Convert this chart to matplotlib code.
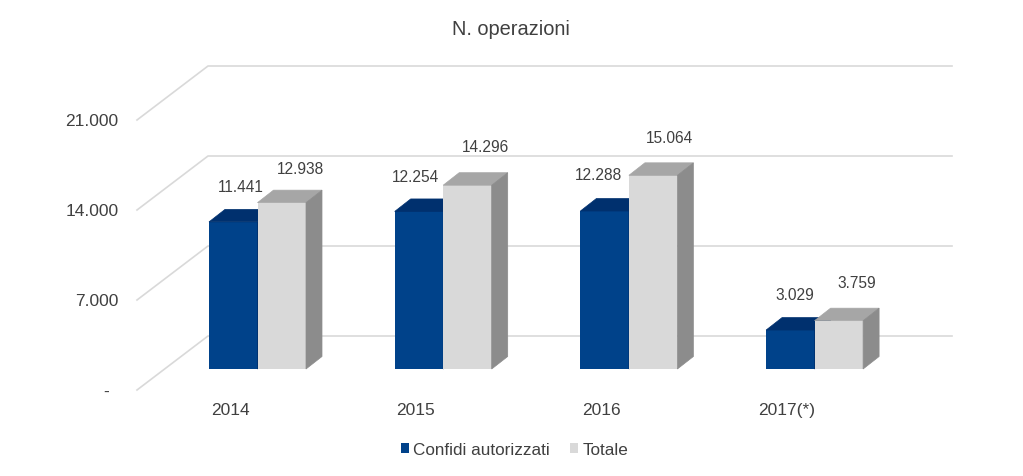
import numpy as np
import matplotlib
matplotlib.use("Agg")
import matplotlib.pyplot as plt

plt.rcParams['font.family'] = ['Liberation Sans', 'DejaVu Sans']

years = ['2014', '2015', '2016', '2017(*)']
confidi = [11441, 12254, 12288, 3029]
totale = [12938, 14296, 15064, 3759]
confidi_labels = ['11.441', '12.254', '12.288', '3.029']
totale_labels = ['12.938', '14.296', '15.064', '3.759']
y_ticks = [0, 7000, 14000, 21000]
y_tick_labels = ['-', '7.000', '14.000', '21.000']

W, H = 1023, 477
BASE_PX = 370
X0_PX = 257.5
CAT_PX = 185.7
UNITS_PER_PX = 7000 / 90

fig = plt.figure(figsize=(W / 100, H / 100), dpi=100)
ax = fig.add_axes([0, 0, 1, 1])
ax.set_xlim(-X0_PX / CAT_PX, (W - X0_PX) / CAT_PX)
ax.set_ylim(-(H - BASE_PX) * UNITS_PER_PX, BASE_PX * UNITS_PER_PX)
ax.axis('off')


def dx(px):
    return px / CAT_PX


def dy(px):
    return px * UNITS_PER_PX


def px_x(px):
    return (px - X0_PX) / CAT_PX


def px_y(px):
    return (BASE_PX - px) * UNITS_PER_PX


# walls of the 3d frame
grid_col = '#D9D9D9'
for v in y_ticks:
    ax.plot([px_x(137), px_x(208), px_x(952)],
            [v - dy(21), v + dy(33), v + dy(33)],
            color=grid_col, lw=1.2, zorder=1)

x = np.arange(len(years))
bw = 48.5 / CAT_PX
depth_x, depth_y = dx(16), dy(12.5)


def draw_bars(xs, vals, front, top, side, label, z):
    bars = ax.bar(xs, vals, bw, color=front, label=label, zorder=z, linewidth=0)
    for xc, v in zip(xs, vals):
        l, r = xc - bw / 2, xc + bw / 2
        ax.fill([l, r, r + depth_x, l + depth_x],
                [v, v, v + depth_y, v + depth_y],
                color=top, lw=0.5, zorder=z)
        ax.fill([r, r + depth_x, r + depth_x, r],
                [0, depth_y, v + depth_y, v],
                color=side, lw=0.5, zorder=z)
    return bars


draw_bars(x - bw / 2, confidi, '#00428A', '#00306E', '#00306E', 'Confidi autorizzati', 3)
draw_bars(x + bw / 2, totale, '#D9D9D9', '#A6A6A6', '#8C8C8C', 'Totale', 4)

# value labels sit above the bars, offsets in px from the bar's left edge
blue_off = [32, 21, 18, 29]
grey_off = [43, 42, 41, 42.5]
grey_up = [34, 39, 38, 38]
blue_up = [35, 35, 37, 36]
year_off = [2, 1, 2, -8]
txt = '#404040'
for i in range(len(years)):
    ax.text(x[i] - bw + dx(blue_off[i]), confidi[i] + dy(blue_up[i]), confidi_labels[i],
            ha='center', va='center', fontsize=11.2, color=txt, zorder=6)
    ax.text(x[i] + dx(grey_off[i]), totale[i] + dy(grey_up[i]), totale_labels[i],
            ha='center', va='center', fontsize=11.2, color=txt, zorder=6)
    ax.text(x[i] - bw + dx(year_off[i]), px_y(411), years[i],
            ha='left', va='center', fontsize=12.5, color=txt)

for v, lab in zip(y_ticks, y_tick_labels):
    right = 108.5 if lab == '-' else 118.5
    ax.text(px_x(right), v - dy(22), lab, ha='right', va='center', fontsize=12.5, color=txt)

ax.text(px_x(511), px_y(30), 'N. operazioni', ha='center', va='center', fontsize=14.4, color=txt)

ax.legend(loc='center', bbox_to_anchor=(514.5 / W, 1 - 450.5 / H), ncol=2, frameon=False,
          fontsize=12.3, labelcolor=txt, handlelength=0.47, handleheight=0.47,
          handletextpad=0.23, columnspacing=1.2)

fig.savefig('out.png', dpi=100)
